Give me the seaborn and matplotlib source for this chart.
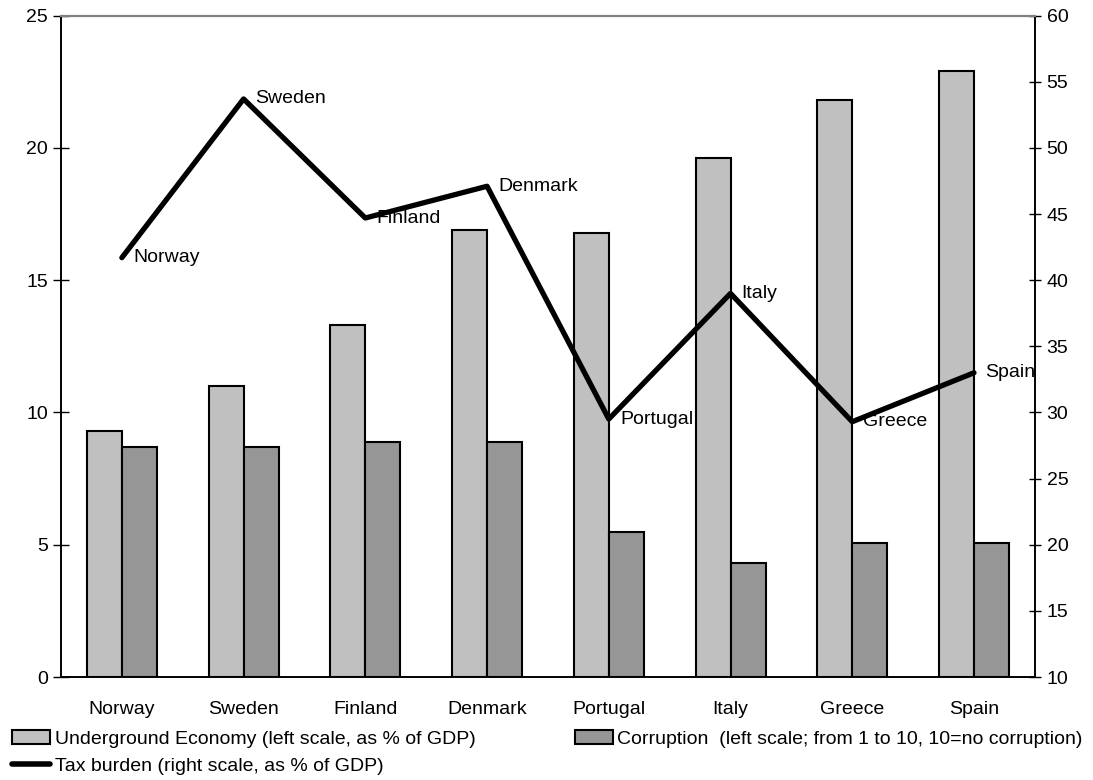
import pandas as pd
import numpy as np
import matplotlib.pyplot as plt
import seaborn as sb
from matplotlib.patches import Patch
from matplotlib.lines import Line2D

countries = ["Norway", "Sweden", "Finland", "Denmark", "Portugal", "Italy", "Greece", "Spain"]
underground = [9.3, 11.0, 13.3, 16.9, 16.8, 19.6, 21.8, 22.9]
corruption = [8.7, 8.7, 8.87, 8.87, 5.5, 4.3, 5.05, 5.05]
tax_burden = [41.7, 53.7, 44.7, 47.1, 29.5, 39.0, 29.3, 33.0]

ue_name = "Underground Economy (left scale, as % of GDP)"
co_name = "Corruption  (left scale; from 1 to 10, 10=no corruption)"
tax_name = "Tax burden (right scale, as % of GDP)"

sb.set_style("white")
plt.rcParams['font.family'] = ['Liberation Sans', 'DejaVu Sans']
plt.rcParams['font.size'] = 14
for k in ("text.color", "axes.labelcolor", "xtick.color", "ytick.color"):
    plt.rcParams[k] = "black"

df = pd.DataFrame({"country": countries * 2,
                   "value": underground + corruption,
                   "series": [ue_name] * 8 + [co_name] * 8})

fig = plt.figure(figsize=(10.93, 7.8), dpi=100)
ax = fig.add_axes([0.0558, 0.132, 0.891, 0.848])
sb.barplot(data=df, x="country", y="value", hue="series", order=countries,
           palette=["#c0c0c0", "#969696"], edgecolor="black", linewidth=1.5,
           width=0.575, saturation=1, ax=ax, legend=False)
ax.set_xlim(-0.5, 7.5)
ax.set_ylim(0, 25)
ax.set_yticks(np.arange(0, 26, 5))
ax.set_xlabel("")
ax.set_ylabel("")
ax.tick_params(axis="y", direction="inout", length=11, width=1, labelsize=14, pad=4)
ax.tick_params(axis="x", length=0, labelsize=14, pad=17)

ax2 = ax.twinx()
sb.lineplot(x=np.arange(len(countries)), y=tax_burden, color="black", linewidth=3.8, ax=ax2)
ax2.set_ylim(10, 60)
ax2.set_yticks(np.arange(10, 61, 5))
ax2.tick_params(axis="y", direction="inout", length=9, width=1, labelsize=14, pad=4)
for i, (c, v) in enumerate(zip(countries, tax_burden)):
    ax2.annotate(c, (i, v), xytext=(8, 0), textcoords="offset points",
                 ha="left", va="center", fontsize=14)

for a in (ax, ax2):
    a.spines["top"].set_color("#808080")
    a.spines["top"].set_linewidth(1.5)
    for s in ("left", "right", "bottom"):
        a.spines[s].set_color("black")
        a.spines[s].set_linewidth(1.2)

handles = [Patch(facecolor="#c0c0c0", edgecolor="black", linewidth=1.5),
           Line2D([0], [0], color="black", linewidth=4),
           Patch(facecolor="#969696", edgecolor="black", linewidth=1.5)]
fig.legend(handles, [ue_name, tax_name, co_name], ncol=2, loc="upper left",
           bbox_to_anchor=(0.011, 0.064), frameon=False, fontsize=14,
           handlelength=1.95, handleheight=0.7, handletextpad=0.25,
           columnspacing=5.1, labelspacing=0.5, borderpad=0, borderaxespad=0)

fig.savefig("out.png", dpi=100)
